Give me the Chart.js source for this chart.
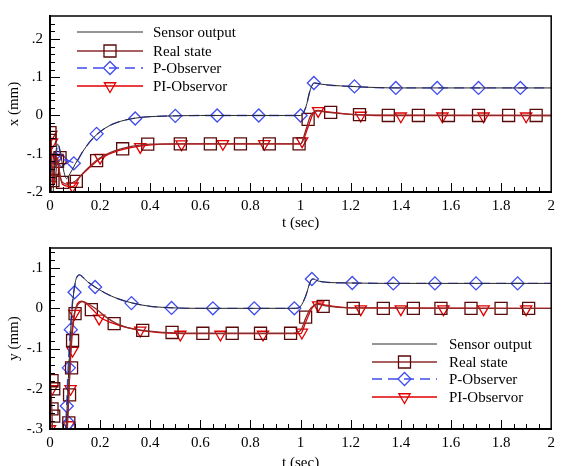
<!DOCTYPE html>
<html>
<head>
<meta charset="utf-8">
<script src="https://cdn.jsdelivr.net/npm/chart.js@4.4.1/dist/chart.umd.min.js"></script>
<style>
body{margin:0;background:#fff;overflow:hidden;width:561px;height:466px;position:relative}
.box{position:absolute;left:0;width:561px}
</style>
</head>
<body>
<div class="box" style="top:0"><canvas id="grafico_x" width="561" height="232"></canvas></div>
<div class="box" style="top:232px"><canvas id="grafico_y" width="561" height="240"></canvas></div>
<script>
// rótulos das séries
const nomes = ['Sensor output', 'Real state', 'P-Observer', 'PI-Observor'];

// valores dos ticks
const tTicks = [0, 0.2, 0.4, 0.6, 0.8, 1, 1.2, 1.4, 1.6, 1.8, 2];
const xMmTicks = [-0.2, -0.1, 0, 0.1, 0.2];
const yMmTicks = [-0.3, -0.2, -0.1, 0, 0.1];

// ---- gráfico x (mm): curvas [t, valor]
const xSensor = [[0,0],[0.004,-0.19],[0.012,-0.2],[0.02,-0.12],[0.03,-0.075],[0.04,-0.09],[0.05,-0.13],[0.066,-0.165],[0.08,-0.152],[0.1,-0.128],[0.13,-0.095],[0.16,-0.068],[0.19,-0.048],[0.22,-0.033],[0.26,-0.02],[0.3,-0.012],[0.34,-0.007],[0.4,-0.003],[0.5,-0.001],[0.6,0],[1.0,0],[1.02,0.02],[1.04,0.07],[1.055,0.085],[1.08,0.082],[1.12,0.079],[1.2,0.076],[1.3,0.073],[1.4,0.072],[2,0.072]];
const xReal = [[0,-0.04],[0.005,-0.12],[0.01,-0.14],[0.02,-0.17],[0.03,-0.11],[0.04,-0.16],[0.05,-0.175],[0.07,-0.18],[0.1,-0.172],[0.14,-0.145],[0.19,-0.115],[0.24,-0.097],[0.29,-0.086],[0.35,-0.078],[0.4,-0.075],[0.5,-0.074],[1.0,-0.074],[1.02,-0.04],[1.04,0],[1.07,0.012],[1.1,0.009],[1.2,0.003],[1.3,0.001],[2,0]];
const xPObs = [[0,-0.19],[0.008,-0.12],[0.02,-0.11],[0.033,-0.075],[0.045,-0.115],[0.06,-0.116],[0.08,-0.12],[0.1,-0.124],[0.13,-0.095],[0.16,-0.068],[0.19,-0.048],[0.22,-0.033],[0.26,-0.02],[0.3,-0.012],[0.34,-0.007],[0.4,-0.003],[0.5,-0.001],[0.6,0],[1.0,0],[1.02,0.02],[1.04,0.07],[1.055,0.085],[1.08,0.082],[1.12,0.079],[1.2,0.076],[1.3,0.073],[1.4,0.072],[2,0.072]];
const xPI = [[0,-0.05],[0.005,-0.07],[0.01,-0.18],[0.02,-0.1],[0.03,-0.12],[0.05,-0.18],[0.09,-0.186],[0.12,-0.16],[0.16,-0.135],[0.2,-0.113],[0.25,-0.097],[0.3,-0.087],[0.36,-0.08],[0.45,-0.075],[0.55,-0.074],[1.0,-0.074],[1.03,-0.03],[1.05,0.005],[1.07,0.013],[1.1,0.01],[1.2,0.003],[1.3,0],[2,0]];
// marcadores
const xRealMarc = [[0,-0.045],[0,-0.065],[0,-0.12],[0.01,-0.14],[0.012,-0.17],[0.03,-0.12],[0.04,-0.11],[0.05,-0.175],[0.105,-0.172],[0.186,-0.118],[0.29,-0.087],[0.39,-0.075],[0.52,-0.074],[0.64,-0.074],[0.76,-0.074],[0.875,-0.074],[0.994,-0.074],[1.03,-0.01],[1.12,0.008],[1.235,0.002],[1.35,0],[1.47,0],[1.59,0],[1.71,0],[1.83,0],[1.94,0]];
const xPObsMarc = [[0.02,-0.112],[0.047,-0.118],[0.095,-0.125],[0.186,-0.048],[0.34,-0.008],[0.5,-0.001],[0.667,0],[0.833,0],[1.0,0],[1.053,0.085],[1.215,0.076],[1.38,0.072],[1.545,0.072],[1.71,0.072],[1.877,0.072]];
const xPIMarc = [[0.005,-0.05],[0.008,-0.07],[0,-0.18],[0.03,-0.11],[0.09,-0.185],[0.2,-0.11],[0.36,-0.082],[0.525,-0.075],[0.69,-0.074],[0.855,-0.074],[1.006,-0.067],[1.07,0.012],[1.24,0],[1.4,-0.002],[1.566,-0.002],[1.73,-0.002],[1.9,-0.002]];

// ---- gráfico y (mm)
const ySensor = [[0,-0.16],[0.004,-0.32],[0.06,-0.32],[0.068,-0.25],[0.075,-0.15],[0.085,-0.03],[0.095,0.04],[0.105,0.075],[0.118,0.083],[0.13,0.078],[0.15,0.066],[0.18,0.053],[0.22,0.038],[0.27,0.024],[0.33,0.013],[0.4,0.005],[0.5,0.001],[0.6,0],[0.98,0],[1.0,0.005],[1.02,0.03],[1.04,0.068],[1.05,0.073],[1.07,0.068],[1.1,0.065],[1.2,0.063],[1.4,0.062],[2,0.062]];
const yReal = [[0,-0.17],[0.004,-0.2],[0.008,-0.26],[0.012,-0.32],[0.06,-0.32],[0.07,-0.29],[0.076,-0.2],[0.082,-0.1],[0.09,-0.04],[0.1,-0.005],[0.115,0.012],[0.13,0.017],[0.15,0.012],[0.18,0],[0.22,-0.02],[0.26,-0.036],[0.3,-0.046],[0.37,-0.055],[0.45,-0.06],[0.55,-0.062],[0.96,-0.062],[1.0,-0.055],[1.02,-0.025],[1.04,0],[1.07,0.01],[1.1,0.006],[1.2,0.001],[2,0]];
const yPObs = [[0.06,-0.32],[0.066,-0.245],[0.072,-0.15],[0.08,-0.06],[0.09,0.02],[0.1,0.06],[0.11,0.08],[0.118,0.083],[0.13,0.078],[0.15,0.066],[0.18,0.053],[0.22,0.038],[0.27,0.024],[0.33,0.013],[0.4,0.005],[0.5,0.001],[0.6,0],[0.98,0],[1.0,0.005],[1.02,0.03],[1.04,0.068],[1.05,0.073],[1.07,0.068],[1.1,0.065],[1.2,0.063],[1.4,0.062],[2,0.062]];
const yPI = [[0,-0.19],[0.005,-0.32],[0.06,-0.32],[0.072,-0.25],[0.08,-0.15],[0.088,-0.07],[0.098,-0.015],[0.11,0.012],[0.125,0.018],[0.14,0.014],[0.17,-0.003],[0.2,-0.022],[0.25,-0.037],[0.3,-0.047],[0.36,-0.055],[0.45,-0.061],[0.55,-0.063],[1.0,-0.063],[1.02,-0.035],[1.045,0],[1.07,0.012],[1.1,0.008],[1.2,0.001],[2,0]];
const yRealMarc = [[0.008,-0.18],[0.015,-0.2],[0.008,-0.25],[0.015,-0.268],[0.075,-0.285],[0.078,-0.215],[0.086,-0.148],[0.09,-0.08],[0.1,-0.013],[0.165,-0.003],[0.256,-0.038],[0.37,-0.055],[0.487,-0.06],[0.61,-0.062],[0.727,-0.062],[0.84,-0.062],[0.96,-0.062],[1.02,-0.022],[1.09,0.005],[1.21,0],[1.33,0],[1.45,0],[1.56,0],[1.68,0],[1.8,0],[1.91,0]];
const yPObsMarc = [[0.075,-0.285],[0.067,-0.243],[0.075,-0.148],[0.083,-0.053],[0.098,0.04],[0.18,0.053],[0.325,0.013],[0.485,0.001],[0.65,0],[0.815,0],[0.975,0],[1.045,0.073],[1.206,0.063],[1.37,0.062],[1.536,0.062],[1.7,0.062],[1.866,0.062]];
const yPIMarc = [[0,-0.3],[0.008,-0.2],[0.075,-0.29],[0.082,-0.2],[0.09,-0.105],[0.098,-0.013],[0.196,-0.025],[0.36,-0.055],[0.52,-0.065],[0.68,-0.065],[0.85,-0.065],[1.005,-0.06],[1.07,0.008],[1.24,-0.002],[1.4,-0.002],[1.57,-0.002],[1.73,-0.002],[1.9,-0.002]];

const fonte = {family: "'Liberation Serif', 'Times New Roman', serif", size: 15};

const estilos = [
  {cor: '#2a2a2a', largura: 1, dash: []},
  {cor: '#8c2b2b', largura: 1.3, dash: [], marc: 'rect', corMarc: '#5a0a0a', raio: 8.5, rot: 0},
  {cor: '#3f4cf0', largura: 1.3, dash: [10, 6], marc: 'rectRot', corMarc: '#3f4cf0', raio: 6.5, rot: 0},
  {cor: '#e00000', largura: 1.3, dash: [], marc: 'triangle', corMarc: '#e00000', raio: 6.5, rot: 180}
];

const pts = a => a.map(p => ({x: p[0], y: p[1]}));

function fmtY(v) {
  if (Math.abs(v) < 1e-9) return '0';
  return (Math.round(v * 10) / 10).toString().replace('0.', '.');
}

// ticks para dentro + moldura
const ticksDentro = {
  id: 'ticksDentro',
  afterDraw(chart) {
    const {ctx, chartArea: a, scales: {x, y}} = chart;
    ctx.save();
    ctx.strokeStyle = '#000';
    ctx.lineWidth = 1;
    ctx.beginPath();
    for (let i = 1; i < 40; i++) {
      const px = Math.round(x.getPixelForValue(i * 0.05)) + 0.5;
      const len = i % 4 === 0 ? 9 : 5;
      ctx.moveTo(px, a.bottom);
      ctx.lineTo(px, a.bottom - len);
    }
    const k0 = Math.ceil(y.min / 0.02 - 1e-6), k1 = Math.floor(y.max / 0.02 + 1e-6);
    for (let k = k0; k <= k1; k++) {
      const py = Math.round(y.getPixelForValue(k * 0.02)) + 0.5;
      if (py >= a.bottom - 1 || py <= a.top + 1) continue;
      const len = k % 5 === 0 ? 10 : 5;
      ctx.moveTo(a.left, py);
      ctx.lineTo(a.left + len, py);
    }
    ctx.stroke();
    ctx.lineWidth = 1.5;
    ctx.strokeRect(a.left, a.top, a.right - a.left, a.bottom - a.top);
    ctx.lineWidth = 2;
    ctx.beginPath();
    ctx.moveTo(a.left, a.top);
    ctx.lineTo(a.left, a.bottom);
    ctx.lineTo(a.right, a.bottom);
    ctx.stroke();
    ctx.restore();
  }
};

// legenda com linha + marcador
const legendaLinha = {
  id: 'legendaLinha',
  afterDraw(chart, args, o) {
    const ctx = chart.ctx;
    ctx.save();
    nomes.forEach((nome, i) => {
      const e = estilos[i];
      const y = o.ys[i];
      ctx.strokeStyle = e.cor;
      ctx.lineWidth = e.largura;
      ctx.setLineDash(e.dash);
      ctx.beginPath();
      ctx.moveTo(o.x1, y);
      ctx.lineTo(o.x2, y);
      ctx.stroke();
      ctx.setLineDash([]);
      if (e.marc) {
        ctx.strokeStyle = e.corMarc;
        ctx.fillStyle = 'rgba(0,0,0,0)';
        ctx.lineWidth = 1.3;
        Chart.helpers.drawPoint(ctx, {pointStyle: e.marc, rotation: e.rot, radius: e.raio, borderWidth: 1.3}, (o.x1 + o.x2) / 2, y);
      }
      ctx.fillStyle = '#000';
      ctx.font = fonte.size + 'px ' + fonte.family;
      ctx.textBaseline = 'middle';
      ctx.textAlign = 'left';
      ctx.fillText(nome, o.xt, y + 1);
    });
    ctx.restore();
  }
};

function montar(id, linhas, marcas, cfg) {
  const datasets = [];
  linhas.forEach((l, i) => {
    const e = estilos[i];
    datasets.push({
      label: nomes[i], data: pts(l), borderColor: e.cor, borderWidth: e.largura,
      borderDash: e.dash, pointRadius: 0, tension: 0.3, cubicInterpolationMode: 'monotone', fill: false
    });
  });
  marcas.forEach((m, j) => {
    const e = estilos[j + 1];
    datasets.push({
      label: nomes[j + 1] + ' marcador', data: pts(m), showLine: false,
      pointStyle: e.marc, pointRotation: e.rot, pointRadius: e.raio, pointBorderWidth: 1.3,
      pointBorderColor: e.corMarc, pointBackgroundColor: 'rgba(0,0,0,0)'
    });
  });
  const canvas = document.getElementById(id);
  return new Chart(canvas, {
    type: 'line',
    data: {datasets},
    options: {
      responsive: false,
      animation: false,
      layout: {padding: {left: 0, top: cfg.top, right: 561 - cfg.right, bottom: 0}},
      plugins: {legend: {display: false}, tooltip: {enabled: false}, legendaLinha: cfg.legenda},
      scales: {
        x: {
          type: 'linear', min: 0, max: 2,
          grid: {display: false, drawTicks: false},
          border: {display: true, color: '#000', width: 2},
          ticks: {color: '#000', font: fonte, padding: 5, maxRotation: 0, autoSkip: false,
            callback: v => String(Math.round(v * 10) / 10)},
          afterBuildTicks: s => { s.ticks = tTicks.map(v => ({value: v})); },
          title: {display: true, text: 't (sec)', color: '#000', font: fonte, padding: 0},
          afterFit: s => { s.height = canvas.height - cfg.bottom; }
        },
        y: {
          min: cfg.ymin, max: cfg.ymax,
          grid: {display: false, drawTicks: false},
          border: {display: true, color: '#000', width: 2},
          ticks: {color: '#000', font: fonte, padding: 7, callback: fmtY},
          afterBuildTicks: s => { s.ticks = cfg.yticks.map(v => ({value: v})); },
          title: {display: true, text: cfg.titulo, color: '#000', font: fonte, padding: {top: 5, bottom: 0}},
          afterFit: s => { s.width = 50; }
        }
      }
    },
    plugins: [ticksDentro, legendaLinha]
  });
}

montar('grafico_x', [xSensor, xReal, xPObs, xPI], [xRealMarc, xPObsMarc, xPIMarc],
  {top: 13, bottom: 192, right: 557, ymin: -0.2, ymax: 0.26, yticks: xMmTicks, titulo: 'x (mm)',
   legenda: {x1: 77, x2: 143, xt: 153, ys: [32, 51, 68, 86]}});

montar('grafico_y', [ySensor, yReal, yPObs, yPI], [yRealMarc, yPObsMarc, yPIMarc],
  {top: 16, bottom: 197, right: 559, ymin: -0.3, ymax: 0.15, yticks: yMmTicks, titulo: 'y (mm)',
   legenda: {x1: 372, x2: 437, xt: 449, ys: [112, 130, 147, 165]}});
</script>
</body>
</html>
